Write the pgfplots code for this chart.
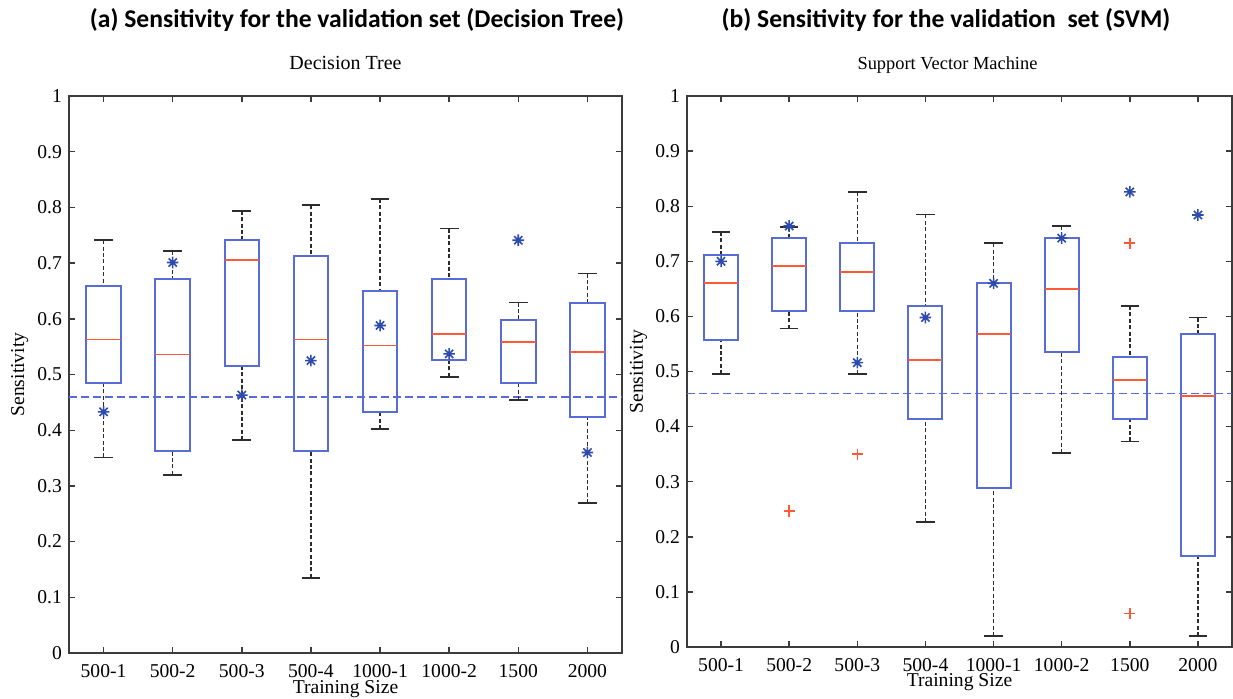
\documentclass[border=0pt]{standalone}
\usepackage{fontspec}
\setmainfont{Liberation Serif}
\newfontfamily\titlefont{Carlito}
\usepackage{pgfplots}
\pgfplotsset{compat=1.18}
\usepgfplotslibrary{statistics}

\definecolor{boxblue}{RGB}{88,108,214}
\definecolor{medred}{RGB}{255,90,55}
\definecolor{starblue}{RGB}{45,75,175}
\definecolor{whisk}{RGB}{45,45,45}
\definecolor{axgray}{RGB}{60,60,60}

% matlab style '*' marker (+ and x together)
\pgfdeclareplotmark{mstar}{%
  \pgfpathmoveto{\pgfqpoint{-\pgfplotmarksize}{0pt}}\pgfpathlineto{\pgfqpoint{\pgfplotmarksize}{0pt}}%
  \pgfpathmoveto{\pgfqpoint{0pt}{-\pgfplotmarksize}}\pgfpathlineto{\pgfqpoint{0pt}{\pgfplotmarksize}}%
  \pgfpathmoveto{\pgfqpoint{-0.707\pgfplotmarksize}{-0.707\pgfplotmarksize}}\pgfpathlineto{\pgfqpoint{0.707\pgfplotmarksize}{0.707\pgfplotmarksize}}%
  \pgfpathmoveto{\pgfqpoint{-0.707\pgfplotmarksize}{0.707\pgfplotmarksize}}\pgfpathlineto{\pgfqpoint{0.707\pgfplotmarksize}{-0.707\pgfplotmarksize}}%
  \pgfusepathqstroke}

\pgfplotsset{
  panel/.style={
    scale only axis, anchor=south west,
    xmin=0.5, xmax=8.5, ymin=0, ymax=1,
    xtick={1,2,3,4,5,6,7,8},
    xticklabels={500-1,500-2,500-3,500-4,1000-1,1000-2,1500,2000},
    ytick={0,0.1,0.2,0.3,0.4,0.5,0.6,0.7,0.8,0.9,1},
    yticklabels={0,0.1,0.2,0.3,0.4,0.5,0.6,0.7,0.8,0.9,1},
    tick align=inside, major tick length=3pt,
    axis line style={axgray, line width=0.9pt},
    every tick/.style={axgray, line width=0.7pt},
    tick label style={font=\fontsize{9.8}{11}\selectfont},
    xticklabel style={yshift=-2pt},
    label style={font=\fontsize{9.8}{11}\selectfont},
    xlabel={Training Size}, ylabel={Sensitivity},
    x label style={at={(axis description cs:0.5,-0.072)}, anchor=base},
    y label style={at={(axis description cs:-0.089,0.5)}, anchor=center},
    title style={at={(axis description cs:0.5,1)}, anchor=base, yshift=7.2pt,
      font=\fontsize{10}{12}\selectfont},
    boxplot/draw direction=y,
    boxplot/box extend=0.5,
    boxplot/every box/.style={draw=boxblue, line width=1pt, solid},
    boxplot/every median/.style={draw=medred, line width=0.9pt, solid},
    % dashed whisker with a solid cap
    boxplot/draw/lower whisker/.code={%
      \draw[whisk, line width=0.75pt, dash pattern=on 2pt off 1.2pt]
        (boxplot box cs:\pgfplotsboxplotvalue{lower whisker},0.5) --
        (boxplot box cs:\pgfplotsboxplotvalue{lower quartile},0.5);
      \draw[whisk, line width=0.8pt]
        (boxplot box cs:\pgfplotsboxplotvalue{lower whisker},0.23) --
        (boxplot box cs:\pgfplotsboxplotvalue{lower whisker},0.77);
    },
    boxplot/draw/upper whisker/.code={%
      \draw[whisk, line width=0.75pt, dash pattern=on 2pt off 1.2pt]
        (boxplot box cs:\pgfplotsboxplotvalue{upper whisker},0.5) --
        (boxplot box cs:\pgfplotsboxplotvalue{upper quartile},0.5);
      \draw[whisk, line width=0.8pt]
        (boxplot box cs:\pgfplotsboxplotvalue{upper whisker},0.23) --
        (boxplot box cs:\pgfplotsboxplotvalue{upper whisker},0.77);
    },
  },
  stars/.style={only marks, mark=mstar, mark size=2.9pt, color=starblue, line width=0.8pt},
  pluses/.style={only marks, mark=+, mark size=2.8pt, color=medred, line width=0.8pt},
  refline/.style={color=boxblue, line width=0.8pt, dash pattern=on 4pt off 2pt},
}

% draw position, lower whisker, lower quartile, median, upper quartile, upper whisker
\newcommand\bx[6]{\addplot[boxplot prepared={draw position=#1,
  lower whisker=#2, lower quartile=#3, median=#4,
  upper quartile=#5, upper whisker=#6}] coordinates {};}

\begin{document}
\begin{tikzpicture}
\useasboundingbox (0,0) rectangle (616.5pt,349pt);

\node[anchor=base, font=\titlefont\bfseries\fontsize{12.8}{15}\selectfont]
  at (178.5pt,335pt) {(a) Sensitivity for the validation set (Decision Tree)};
\node[anchor=base, font=\titlefont\bfseries\fontsize{12.8}{15}\selectfont]
  at (473pt,335pt) {(b) Sensitivity for the validation\ \ set (SVM)};

% (a) decision tree
\begin{axis}[panel, at={(34.5pt,22.5pt)}, width=276.5pt, height=278.5pt,
  title={Decision Tree}]
  \addplot[refline] coordinates {(0.5,0.46)(8.5,0.46)};
  \bx{1}{0.351}{0.485}{0.563}{0.659}{0.741}
  \bx{2}{0.320}{0.362}{0.536}{0.671}{0.722}
  \bx{3}{0.382}{0.516}{0.706}{0.741}{0.794}
  \bx{4}{0.135}{0.362}{0.563}{0.712}{0.804}
  \bx{5}{0.402}{0.432}{0.552}{0.650}{0.815}
  \bx{6}{0.496}{0.526}{0.573}{0.671}{0.762}
  \bx{7}{0.454}{0.485}{0.558}{0.598}{0.629}
  \bx{8}{0.269}{0.423}{0.541}{0.629}{0.681}
  \addplot[stars] coordinates {(1,0.433)(2,0.701)(3,0.463)(4,0.525)
    (5,0.588)(6,0.537)(7,0.741)(8,0.360)};
\end{axis}

% (b) svm
\begin{axis}[panel, at={(343.5pt,25.5pt)}, width=272.5pt, height=275.5pt,
  title={Support Vector Machine},
  title style={xshift=-6pt, font=\fontsize{9.2}{11}\selectfont}]
  \addplot[refline] coordinates {(0.5,0.46)(8.5,0.46)};
  \bx{1}{0.495}{0.558}{0.660}{0.712}{0.753}
  \bx{2}{0.578}{0.609}{0.691}{0.742}{0.762}
  \bx{3}{0.495}{0.609}{0.681}{0.733}{0.826}
  \bx{4}{0.227}{0.413}{0.521}{0.619}{0.785}
  \bx{5}{0.020}{0.288}{0.568}{0.660}{0.733}
  \bx{6}{0.352}{0.536}{0.650}{0.742}{0.764}
  \bx{7}{0.373}{0.413}{0.485}{0.527}{0.619}
  \bx{8}{0.020}{0.165}{0.456}{0.568}{0.598}
  \addplot[pluses] coordinates {(2,0.247)(3,0.350)(7,0.733)(7,0.061)};
  \addplot[stars] coordinates {(1,0.700)(2,0.764)(3,0.516)(4,0.598)
    (5,0.660)(6,0.742)(7,0.826)(8,0.784)};
\end{axis}
\end{tikzpicture}
\end{document}
